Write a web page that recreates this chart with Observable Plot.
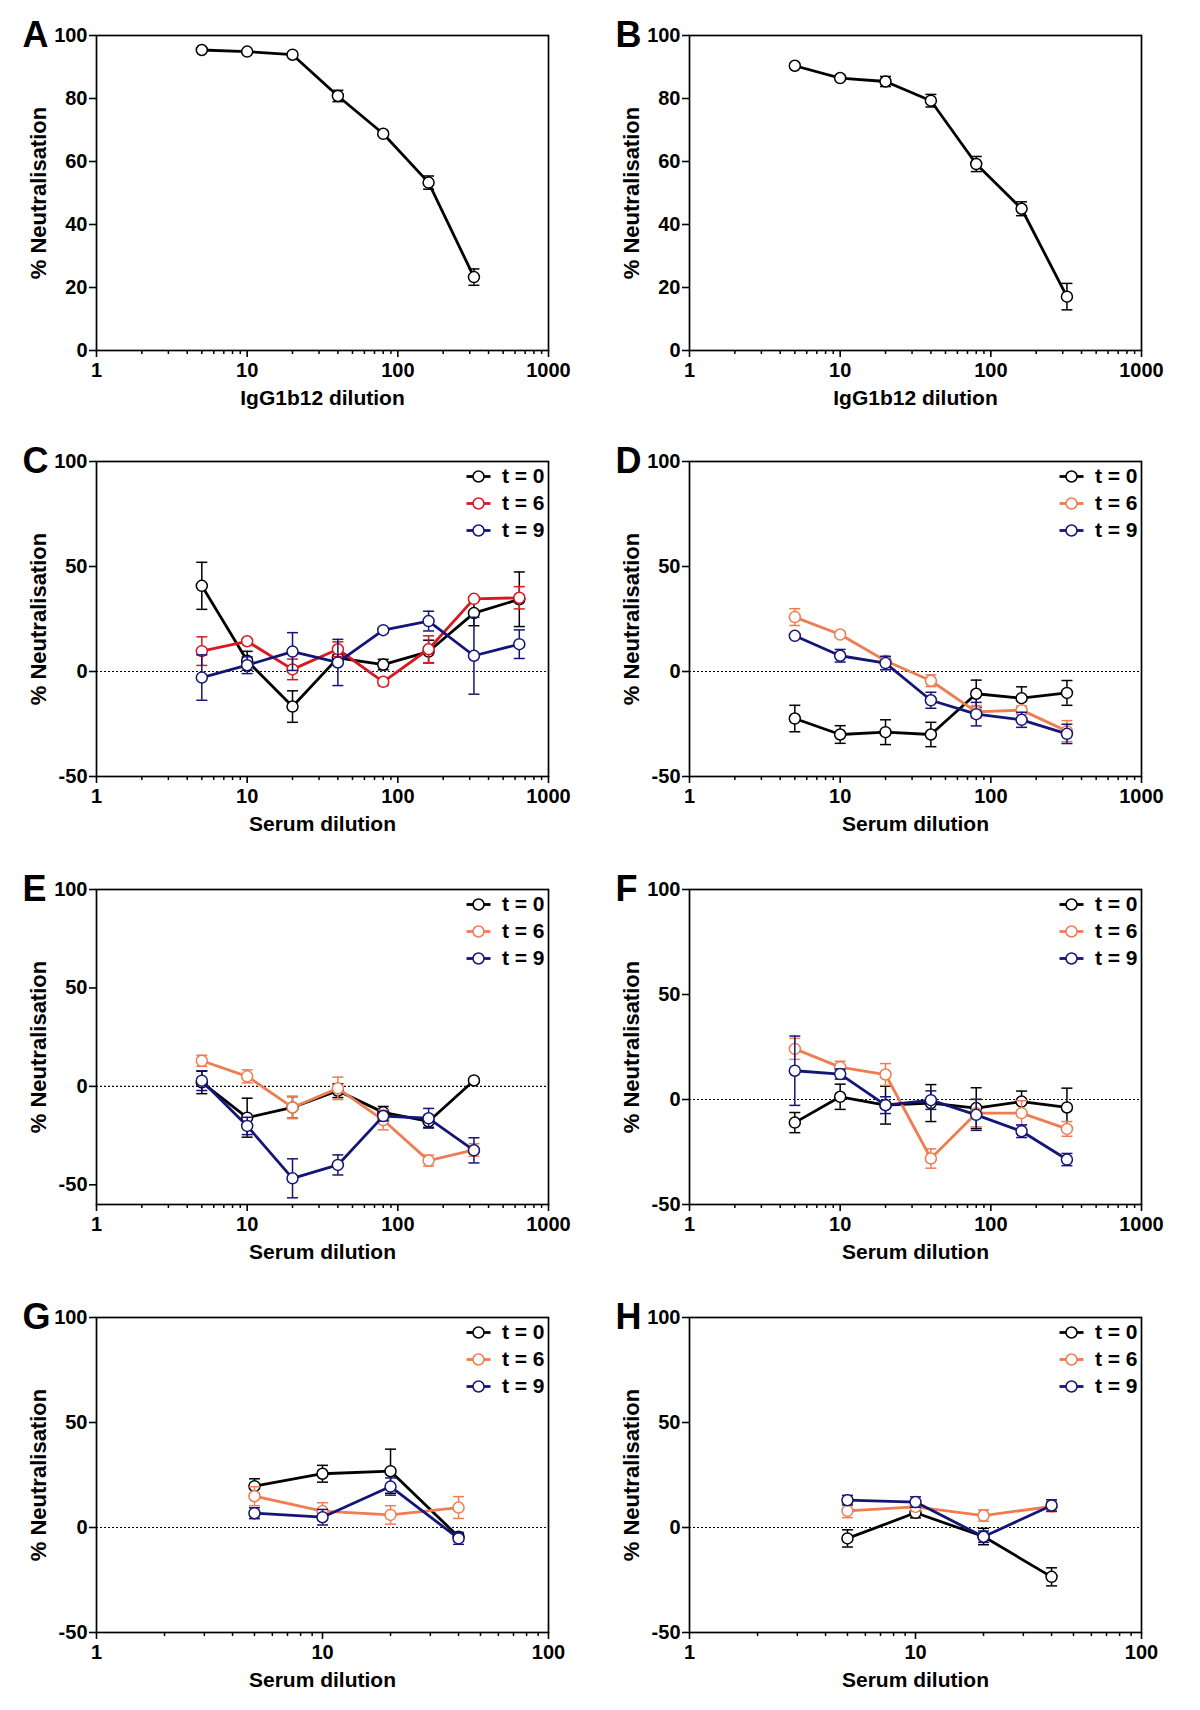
<!DOCTYPE html>
<html><head><meta charset="utf-8">
<script src="https://cdn.jsdelivr.net/npm/d3@7"></script>
<script src="https://cdn.jsdelivr.net/npm/@observablehq/plot@0.6"></script>
<style>
body{margin:0;background:#fff;}
#fig{position:relative;width:1200px;height:1710px;background:#fff;}
.panel{position:absolute;width:600px;height:428px;}
</style></head><body><div id="fig"></div>
<script>
// ---------- data ----------
const dil7 = [5, 10, 20, 40, 80, 160, 320];
const dil8 = [5, 10, 20, 40, 80, 160, 320, 640];
const dil4 = [5, 10, 20, 40];

const A_mean = [95.4, 94.9, 93.9, 80.8, 68.8, 53.3, 23.3];
const A_sem  = [0.6, 0.5, 0.6, 1.8, 0.6, 2.1, 2.6];
const B_mean = [90.4, 86.5, 85.4, 79.3, 59.2, 45.0, 17.1];
const B_sem  = [0.6, 0.8, 1.6, 2.0, 2.4, 2.2, 4.2];

const C_t0 = [40.8, 5.1, -16.7, 6.5, 3.3, 9.5, 27.8, 34.4];
const C_t0_sem = [11.2, 4.5, 7.5, 1.5, 2.5, 5.4, 6.0, 13.0];
const C_t6 = [9.7, 14.4, 1.0, 10.6, -4.9, 10.6, 34.6, 35.1];
const C_t6_sem = [6.8, 1.0, 4.9, 3.5, 1.8, 6.4, 1.0, 5.3];
const C_t9 = [-2.9, 3.0, 9.5, 4.3, 19.7, 24.0, 7.5, 13.0];
const C_t9_sem = [10.8, 4.0, 9.0, 11.0, 1.0, 4.7, 18.3, 6.8];

const D_t0 = [-22.4, -30.0, -28.9, -30.0, -10.6, -12.7, -10.2];
const D_t0_sem = [6.3, 4.2, 5.9, 5.8, 6.5, 5.4, 5.9];
const D_t6 = [25.9, 17.6, 5.1, -4.4, -19.2, -18.4, -28.4];
const D_t6_sem = [4.0, 1.0, 2.0, 2.8, 3.0, 2.0, 5.0];
const D_t9 = [17.0, 7.5, 4.0, -13.7, -20.3, -23.0, -29.7];
const D_t9_sem = [1.0, 3.0, 3.2, 3.8, 5.6, 3.6, 4.6];

const E_t0 = [2.0, -15.9, -10.7, -2.2, -13.2, -17.8, 3.0];
const E_t0_sem = [5.7, 9.9, 5.5, 3.5, 3.0, 3.0, 1.0];
const E_t6 = [13.0, 5.1, -10.7, -1.0, -17.1, -37.7, -32.3];
const E_t6_sem = [2.8, 3.3, 5.7, 5.7, 5.0, 2.8, 3.2];
const E_t9 = [2.9, -20.1, -46.7, -39.9, -15.1, -16.2, -32.5];
const E_t9_sem = [5.0, 4.4, 9.9, 5.1, 2.4, 5.0, 6.4];

const F_t0 = [-11.0, 1.3, -2.7, -1.7, -4.1, -1.0, -3.8];
const F_t0_sem = [4.8, 6.0, 9.0, 8.8, 9.7, 5.0, 9.2];
const F_t6 = [24.1, 15.4, 11.9, -28.1, -6.5, -6.5, -14.0];
const F_t6_sem = [5.0, 2.8, 5.2, 4.6, 6.5, 5.9, 3.5];
const F_t9 = [13.7, 12.1, -2.7, -0.3, -7.3, -15.1, -28.6];
const F_t9_sem = [16.5, 2.4, 4.0, 4.4, 7.4, 3.0, 2.9];

const G_t0 = [19.7, 25.6, 26.8, -4.4];
const G_t0_sem = [3.5, 4.0, 10.5, 2.0];
const G_t6 = [14.9, 7.8, 6.0, 9.5];
const G_t6_sem = [4.5, 4.0, 4.4, 5.2];
const G_t9 = [6.8, 4.9, 19.5, -5.2];
const G_t9_sem = [2.6, 3.7, 4.1, 2.8];

const H_t0 = [-5.2, 7.0, -4.3, -23.5];
const H_t0_sem = [4.1, 2.4, 3.9, 4.3];
const H_t6 = [7.9, 9.8, 5.7, 10.0];
const H_t6_sem = [3.2, 2.0, 2.7, 2.5];
const H_t9 = [13.0, 12.1, -4.4, 10.5];
const H_t9_sem = [2.3, 2.5, 2.7, 2.7];

const seriesLabels = ["t = 0", "t = 6", "t = 9"];
const panelLetters = ["A", "B", "C", "D", "E", "F", "G", "H"];
const yTicksAB = [0, 20, 40, 60, 80, 100];
const yTicksSerum = [-50, 0, 50, 100];
const xMajor1000 = [1, 10, 100, 1000];
const xMinor1000 = [2, 3, 4, 5, 6, 7, 8, 9, 20, 30, 40, 50, 60, 70, 80, 90, 200, 300, 400, 500, 600, 700, 800, 900];
const xMajor100 = [1, 10, 100];
const xMinor100 = [2, 3, 4, 5, 6, 7, 8, 9, 20, 30, 40, 50, 60, 70, 80, 90];
const yTitle = "% Neutralisation";
const xTitleAB = "IgG1b12 dilution";
const xTitleSerum = "Serum dilution";

// ---------- style ----------
const BLACK = "#000000", RED = "#d7191f", ORANGE = "#ef7d52", NAVY = "#151577";
const FONT = '"Liberation Sans", Arial, Helvetica, sans-serif';
const cap = {draw(c) { c.moveTo(-5.5, 0); c.lineTo(5.5, 0); }};
const legendLine = {draw(c) { c.moveTo(-12, 0); c.lineTo(12, 0); }};

function makePanel(cfg) {
  const {letter, left, top, mL, mR, xDomain, xMajor, xMinor, yDomain, yTicks, xLabel, series, legend, zero} = cfg;
  const marks = [];
  if (zero) marks.push(Plot.ruleY([0], {stroke: "#000", strokeWidth: 1.2, strokeDasharray: "2,2"}));
  series.forEach(s => {
    const d = s.x.map((x, i) => ({x, y: s.y[i], lo: s.y[i] - s.e[i], hi: s.y[i] + s.e[i]}));
    marks.push(
      Plot.ruleX(d, {x: "x", y1: "lo", y2: "hi", stroke: s.color, strokeWidth: 1.5}),
      Plot.dot(d, {x: "x", y: "lo", symbol: cap, fill: "none", stroke: s.color, strokeWidth: 1.5}),
      Plot.dot(d, {x: "x", y: "hi", symbol: cap, fill: "none", stroke: s.color, strokeWidth: 1.5}),
      Plot.line(d, {x: "x", y: "y", stroke: s.color, strokeWidth: 2.8}),
      Plot.dot(d, {x: "x", y: "y", r: 5.5, fill: "white", stroke: s.color, strokeWidth: 1.5})
    );
  });
  if (legend) series.forEach((s, i) => {
    const dy = 15 + 27 * i;
    marks.push(
      Plot.dot([s], {frameAnchor: "top-right", dx: -70, dy, symbol: legendLine, fill: "none", stroke: s.color, strokeWidth: 2.8}),
      Plot.dot([s], {frameAnchor: "top-right", dx: -70, dy, r: 5.5, fill: "white", stroke: s.color, strokeWidth: 1.5}),
      Plot.text([s.label], {frameAnchor: "top-right", dx: -4, dy, text: d => d, textAnchor: "end", lineAnchor: "middle", fontSize: 21, fontWeight: "bold", fill: "#000"})
    );
  });
  marks.push(
    Plot.axisY({ticks: yTicks, tickSize: 7, tickPadding: 2, tickFormat: d => String(d), label: null, fontSize: 20, fontWeight: "bold", strokeWidth: 1.6}),
    Plot.axisX({ticks: xMajor, tickSize: 7, tickPadding: 5, tickFormat: d => String(d), label: null, fontSize: 20, fontWeight: "bold", strokeWidth: 1.6}),
    Plot.axisX({ticks: xMinor, tickSize: 4, fill: "none", label: null, strokeWidth: 1.5}),
    Plot.frame({stroke: "#000", strokeWidth: 1.7}),
    Plot.text([letter], {frameAnchor: "top-left", dx: -74, dy: 11, text: d => d, textAnchor: "start", lineAnchor: "bottom", fontSize: 36, fontWeight: "bold", fill: "#000"}),
    Plot.text([yTitle], {frameAnchor: "left", dx: -58, rotate: -90, text: d => d, textAnchor: "middle", lineAnchor: "middle", fontSize: 22, fontWeight: "bold", fill: "#000"}),
    Plot.text([xLabel], {frameAnchor: "bottom", dy: 48, text: d => d, textAnchor: "middle", lineAnchor: "middle", fontSize: 21, fontWeight: "bold", fill: "#000"})
  );
  const svg = Plot.plot({
    width: 600, height: 428,
    marginLeft: mL, marginRight: mR, marginTop: 35, marginBottom: 78,
    x: {type: "log", domain: xDomain},
    y: {domain: yDomain},
    style: {fontFamily: FONT, fontWeight: "bold", color: "#000", background: "white", overflow: "visible"},
    marks
  });
  const div = document.createElement("div");
  div.className = "panel";
  div.style.left = left + "px";
  div.style.top = top + "px";
  div.appendChild(svg);
  document.getElementById("fig").appendChild(div);
}

const cols = [{left: 0, mL: 96, mR: 52}, {left: 600, mL: 89, mR: 59}];
const rowsTop = [0, 426, 854, 1282];

function three(x, c6, a, ae, b, be, c, ce) {
  return [
    {x, y: a, e: ae, color: BLACK, label: seriesLabels[0]},
    {x, y: b, e: be, color: c6, label: seriesLabels[1]},
    {x, y: c, e: ce, color: NAVY, label: seriesLabels[2]}
  ];
}

const panels = [
  {series: [{x: dil7, y: A_mean, e: A_sem, color: BLACK}], yDomain: [0, 100], yTicks: yTicksAB, xLabel: xTitleAB, xDomain: [1, 1000], xMajor: xMajor1000, xMinor: xMinor1000, legend: false, zero: false},
  {series: [{x: dil7, y: B_mean, e: B_sem, color: BLACK}], yDomain: [0, 100], yTicks: yTicksAB, xLabel: xTitleAB, xDomain: [1, 1000], xMajor: xMajor1000, xMinor: xMinor1000, legend: false, zero: false},
  {series: three(dil8, RED, C_t0, C_t0_sem, C_t6, C_t6_sem, C_t9, C_t9_sem), yDomain: [-50, 100], yTicks: yTicksSerum, xLabel: xTitleSerum, xDomain: [1, 1000], xMajor: xMajor1000, xMinor: xMinor1000, legend: true, zero: true},
  {series: three(dil7, ORANGE, D_t0, D_t0_sem, D_t6, D_t6_sem, D_t9, D_t9_sem), yDomain: [-50, 100], yTicks: yTicksSerum, xLabel: xTitleSerum, xDomain: [1, 1000], xMajor: xMajor1000, xMinor: xMinor1000, legend: true, zero: true},
  {series: three(dil7, ORANGE, E_t0, E_t0_sem, E_t6, E_t6_sem, E_t9, E_t9_sem), yDomain: [-60, 100], yTicks: yTicksSerum, xLabel: xTitleSerum, xDomain: [1, 1000], xMajor: xMajor1000, xMinor: xMinor1000, legend: true, zero: true},
  {series: three(dil7, ORANGE, F_t0, F_t0_sem, F_t6, F_t6_sem, F_t9, F_t9_sem), yDomain: [-50, 100], yTicks: yTicksSerum, xLabel: xTitleSerum, xDomain: [1, 1000], xMajor: xMajor1000, xMinor: xMinor1000, legend: true, zero: true},
  {series: three(dil4, ORANGE, G_t0, G_t0_sem, G_t6, G_t6_sem, G_t9, G_t9_sem), yDomain: [-50, 100], yTicks: yTicksSerum, xLabel: xTitleSerum, xDomain: [1, 100], xMajor: xMajor100, xMinor: xMinor100, legend: true, zero: true},
  {series: three(dil4, ORANGE, H_t0, H_t0_sem, H_t6, H_t6_sem, H_t9, H_t9_sem), yDomain: [-50, 100], yTicks: yTicksSerum, xLabel: xTitleSerum, xDomain: [1, 100], xMajor: xMajor100, xMinor: xMinor100, legend: true, zero: true}
];

panels.forEach((p, i) => {
  const col = cols[i % 2];
  makePanel({...p, letter: panelLetters[i], left: col.left, top: rowsTop[Math.floor(i / 2)], mL: col.mL, mR: col.mR});
});
</script>
</body></html>
